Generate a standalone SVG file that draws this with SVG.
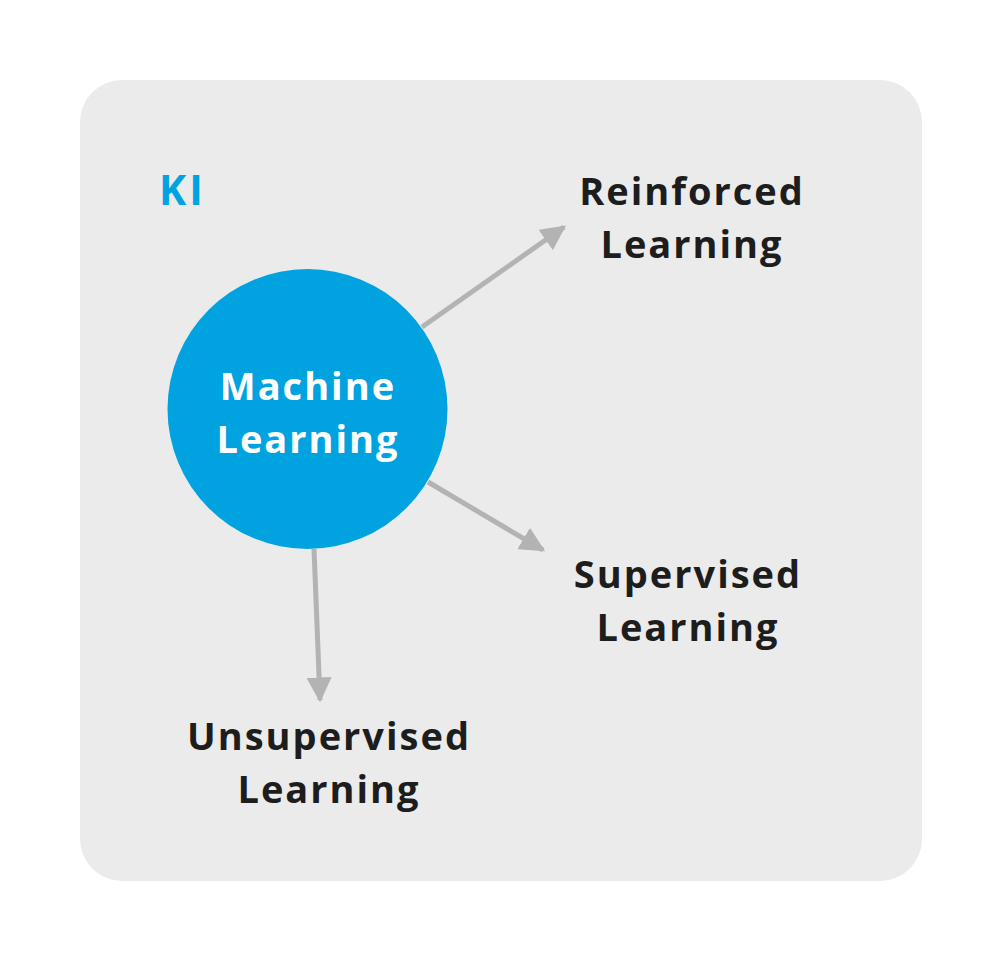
<svg xmlns="http://www.w3.org/2000/svg" width="1000" height="962" viewBox="0 0 1000 962">
<defs>
<style>
.lbl{font-family:"Open Sans","Liberation Sans",sans-serif;font-weight:700;font-size:38px;letter-spacing:2px;fill:#1d1d1d;text-anchor:middle}
.conn{stroke:#b3b3b3;stroke-width:5;fill:none;marker-end:url(#ah)}
</style>
<marker id="ah" viewBox="0 0 10 10" refX="9" refY="5" markerWidth="5" markerHeight="5" orient="auto" markerUnits="strokeWidth">
<path d="M0,0 L10,5 L0,10 z" fill="#b3b3b3"/>
</marker>
</defs>
<rect width="1000" height="962" fill="#ffffff"/>
<g id="ki">
<rect x="80" y="80" width="842" height="801" rx="42" fill="#ebebeb"/>
<text x="159" y="205" style="font-family:'Open Sans','Liberation Sans',sans-serif;font-weight:700;font-size:41px;letter-spacing:3px;fill:#00a3e0">KI</text>
</g>
<g id="connectors">
<line class="conn" x1="422" y1="327" x2="564" y2="227"/>
<line class="conn" x1="428" y1="482" x2="543" y2="550"/>
<line class="conn" x1="314" y1="549" x2="320" y2="700"/>
</g>
<g id="ml">
<circle cx="307.5" cy="409" r="140" fill="#00a3e0"/>
<text class="lbl" style="fill:#ffffff" x="308" y="400">Machine</text>
<text class="lbl" style="fill:#ffffff" x="308" y="453">Learning</text>
</g>
<g id="reinforced">
<text class="lbl" x="692" y="205">Reinforced</text>
<text class="lbl" x="692" y="258">Learning</text>
</g>
<g id="supervised">
<text class="lbl" x="688" y="588">Supervised</text>
<text class="lbl" x="688" y="641">Learning</text>
</g>
<g id="unsupervised">
<text class="lbl" x="329" y="750">Unsupervised</text>
<text class="lbl" x="329" y="803">Learning</text>
</g>
</svg>
